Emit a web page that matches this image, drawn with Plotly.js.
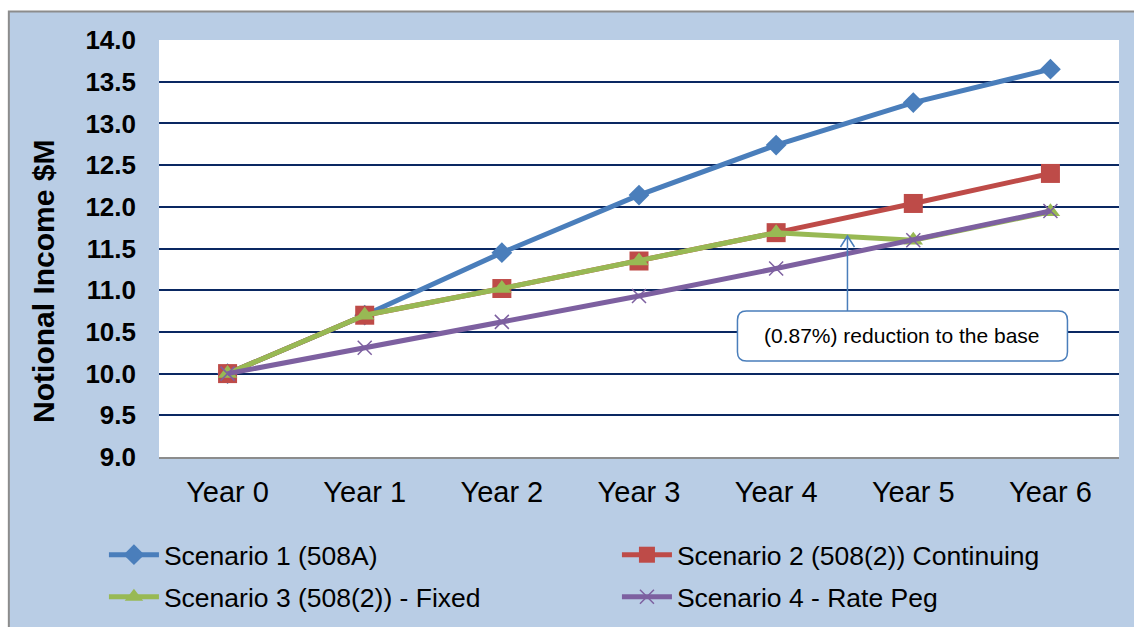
<!DOCTYPE html>
<html>
<head>
<meta charset="utf-8">
<script src="https://cdn.plot.ly/plotly-3.0.1.min.js"></script>
<style>html,body{margin:0;padding:0;background:#fff;}#chart{width:1134px;height:627px;}</style>
</head>
<body>
<div id="chart"></div>
<script>
// ---- data ----
var years = ['Year 0', 'Year 1', 'Year 2', 'Year 3', 'Year 4', 'Year 5', 'Year 6'];
var scenario1 = [10.00, 10.70, 11.45, 12.14, 12.74, 13.25, 13.65];
var scenario2 = [10.00, 10.70, 11.02, 11.35, 11.69, 12.04, 12.40];
var scenario3 = [10.00, 10.70, 11.02, 11.35, 11.69, 11.60, 11.94];
var scenario4 = [10.00, 10.31, 10.62, 10.93, 11.26, 11.60, 11.95];
var seriesNames = ['Scenario 1 (508A)', 'Scenario 2 (508(2)) Continuing', 'Scenario 3 (508(2)) - Fixed', 'Scenario 4 - Rate Peg'];
var yTickVals = [9.0, 9.5, 10.0, 10.5, 11.0, 11.5, 12.0, 12.5, 13.0, 13.5, 14.0];
var yTitle = 'Notional Income $M';
var noteText = '(0.87%) reduction to the base';
var notePoint = {x: 4.52, y: 11.65};

var FONT = 'Liberation Sans, Arial, Helvetica, sans-serif';
var colors = ['#4A7EBB', '#BE4B48', '#98B954', '#7D60A0'];
var LW = 5;

var traces = [
  {x: years, y: scenario1, name: seriesNames[0], type: 'scatter', mode: 'lines+markers', legend: 'legend',
   line: {color: colors[0], width: LW}, marker: {symbol: 'diamond', size: 16, color: colors[0]}},
  {x: years, y: scenario2, name: seriesNames[1], type: 'scatter', mode: 'lines+markers', legend: 'legend',
   line: {color: colors[1], width: LW}, marker: {symbol: 'square', size: 19, color: colors[1]}},
  {x: years, y: scenario3, name: seriesNames[2], type: 'scatter', mode: 'lines+markers', legend: 'legend2',
   line: {color: colors[2], width: LW}, marker: {symbol: 'triangle-up', size: 17, color: colors[2]}},
  {x: years, y: scenario4, name: seriesNames[3], type: 'scatter', mode: 'lines+markers', legend: 'legend2',
   line: {color: colors[3], width: LW}, marker: {symbol: 'x-thin', size: 14, color: colors[3], line: {color: colors[3], width: 1.5}}}
];

function py(p) { return (457 - p) / 417; }
function px(p) { return (p - 159) / 959; }

var legendBase = {
  orientation: 'h', x: px(104), xanchor: 'left', yanchor: 'top',
  font: {family: FONT, size: 26.5, color: '#000'}, bgcolor: 'rgba(0,0,0,0)',
  entrywidth: 448, entrywidthmode: 'pixels', itemwidth: 50, traceorder: 'normal'
};
var legend1 = Object.assign({}, legendBase, {y: py(531)});
var legend2 = Object.assign({}, legendBase, {y: py(573)});

var layout = {
  width: 1134, height: 627,
  margin: {l: 159, r: 15, t: 40, b: 170, autoexpand: false},
  paper_bgcolor: '#B9CDE5',
  plot_bgcolor: '#FFFFFF',
  font: {family: FONT, color: '#000'},
  showlegend: true,
  xaxis: {
    type: 'category', range: [-0.5, 6.5], showgrid: false, zeroline: false,
    showline: true, linecolor: '#8C8C8C', linewidth: 1.5, ticks: '',
    tickfont: {family: FONT, size: 29, color: '#000'}, ticklabelstandoff: 9
  },
  yaxis: {
    range: [9, 14], tickvals: yTickVals, tickformat: '.1f', showgrid: true,
    gridcolor: '#0A2862', gridwidth: 2, zeroline: false, showline: false, ticks: '',
    tickfont: {family: FONT, size: 26, color: '#000', weight: 'bold'}, ticklabelstandoff: 22
  },
  legend: legend1,
  legend2: legend2,
  annotations: [
    {xref: 'paper', yref: 'paper', x: px(43), y: py(281), text: yTitle, textangle: -90, showarrow: false,
     font: {family: FONT, size: 30, color: '#000', weight: 'bold'}, xanchor: 'center', yanchor: 'middle'},
    {xref: 'x', yref: 'y', x: notePoint.x, y: notePoint.y, xshift: 55, yshift: -100, text: noteText,
     showarrow: false, font: {family: FONT, size: 21, color: '#000'}, xanchor: 'center', yanchor: 'middle'}
  ],
  shapes: [
    {type: 'rect', xref: 'paper', yref: 'paper', x0: px(0), x1: px(1140), y0: py(11), y1: py(-5), fillcolor: '#FFFFFF', line: {width: 0}, layer: 'below'},
    {type: 'rect', xref: 'paper', yref: 'paper', x0: px(-5), x1: px(9), y0: py(640), y1: py(-5), fillcolor: '#FFFFFF', line: {width: 0}, layer: 'below'},
    {type: 'rect', xref: 'paper', yref: 'paper', x0: px(9), x1: px(1145), y0: py(640), y1: py(11.5), fillcolor: 'rgba(0,0,0,0)', line: {color: '#8C8C8C', width: 2}, layer: 'below'},
    // callout arrow
    {type: 'path', xref: 'x', yref: 'y', xsizemode: 'pixel', ysizemode: 'pixel', xanchor: notePoint.x, yanchor: notePoint.y,
     path: 'M0,0 L0,-75 M-7,-11 L0,0 L7,-11', line: {color: '#4A7EBB', width: 1.5}, layer: 'above'},
    // callout box (rounded)
    {type: 'path', xref: 'x', yref: 'y', xsizemode: 'pixel', ysizemode: 'pixel', xanchor: notePoint.x, yanchor: notePoint.y,
     path: 'M-101,-75 L211,-75 Q220,-75 220,-84 L220,-116 Q220,-125 211,-125 L-101,-125 Q-110,-125 -110,-116 L-110,-84 Q-110,-75 -101,-75 Z',
     fillcolor: '#FFFFFF', line: {color: '#4A7EBB', width: 1.5}, layer: 'above'}
  ]
};

Plotly.newPlot('chart', traces, layout, {displayModeBar: false, staticPlot: true});
</script>
</body>
</html>
